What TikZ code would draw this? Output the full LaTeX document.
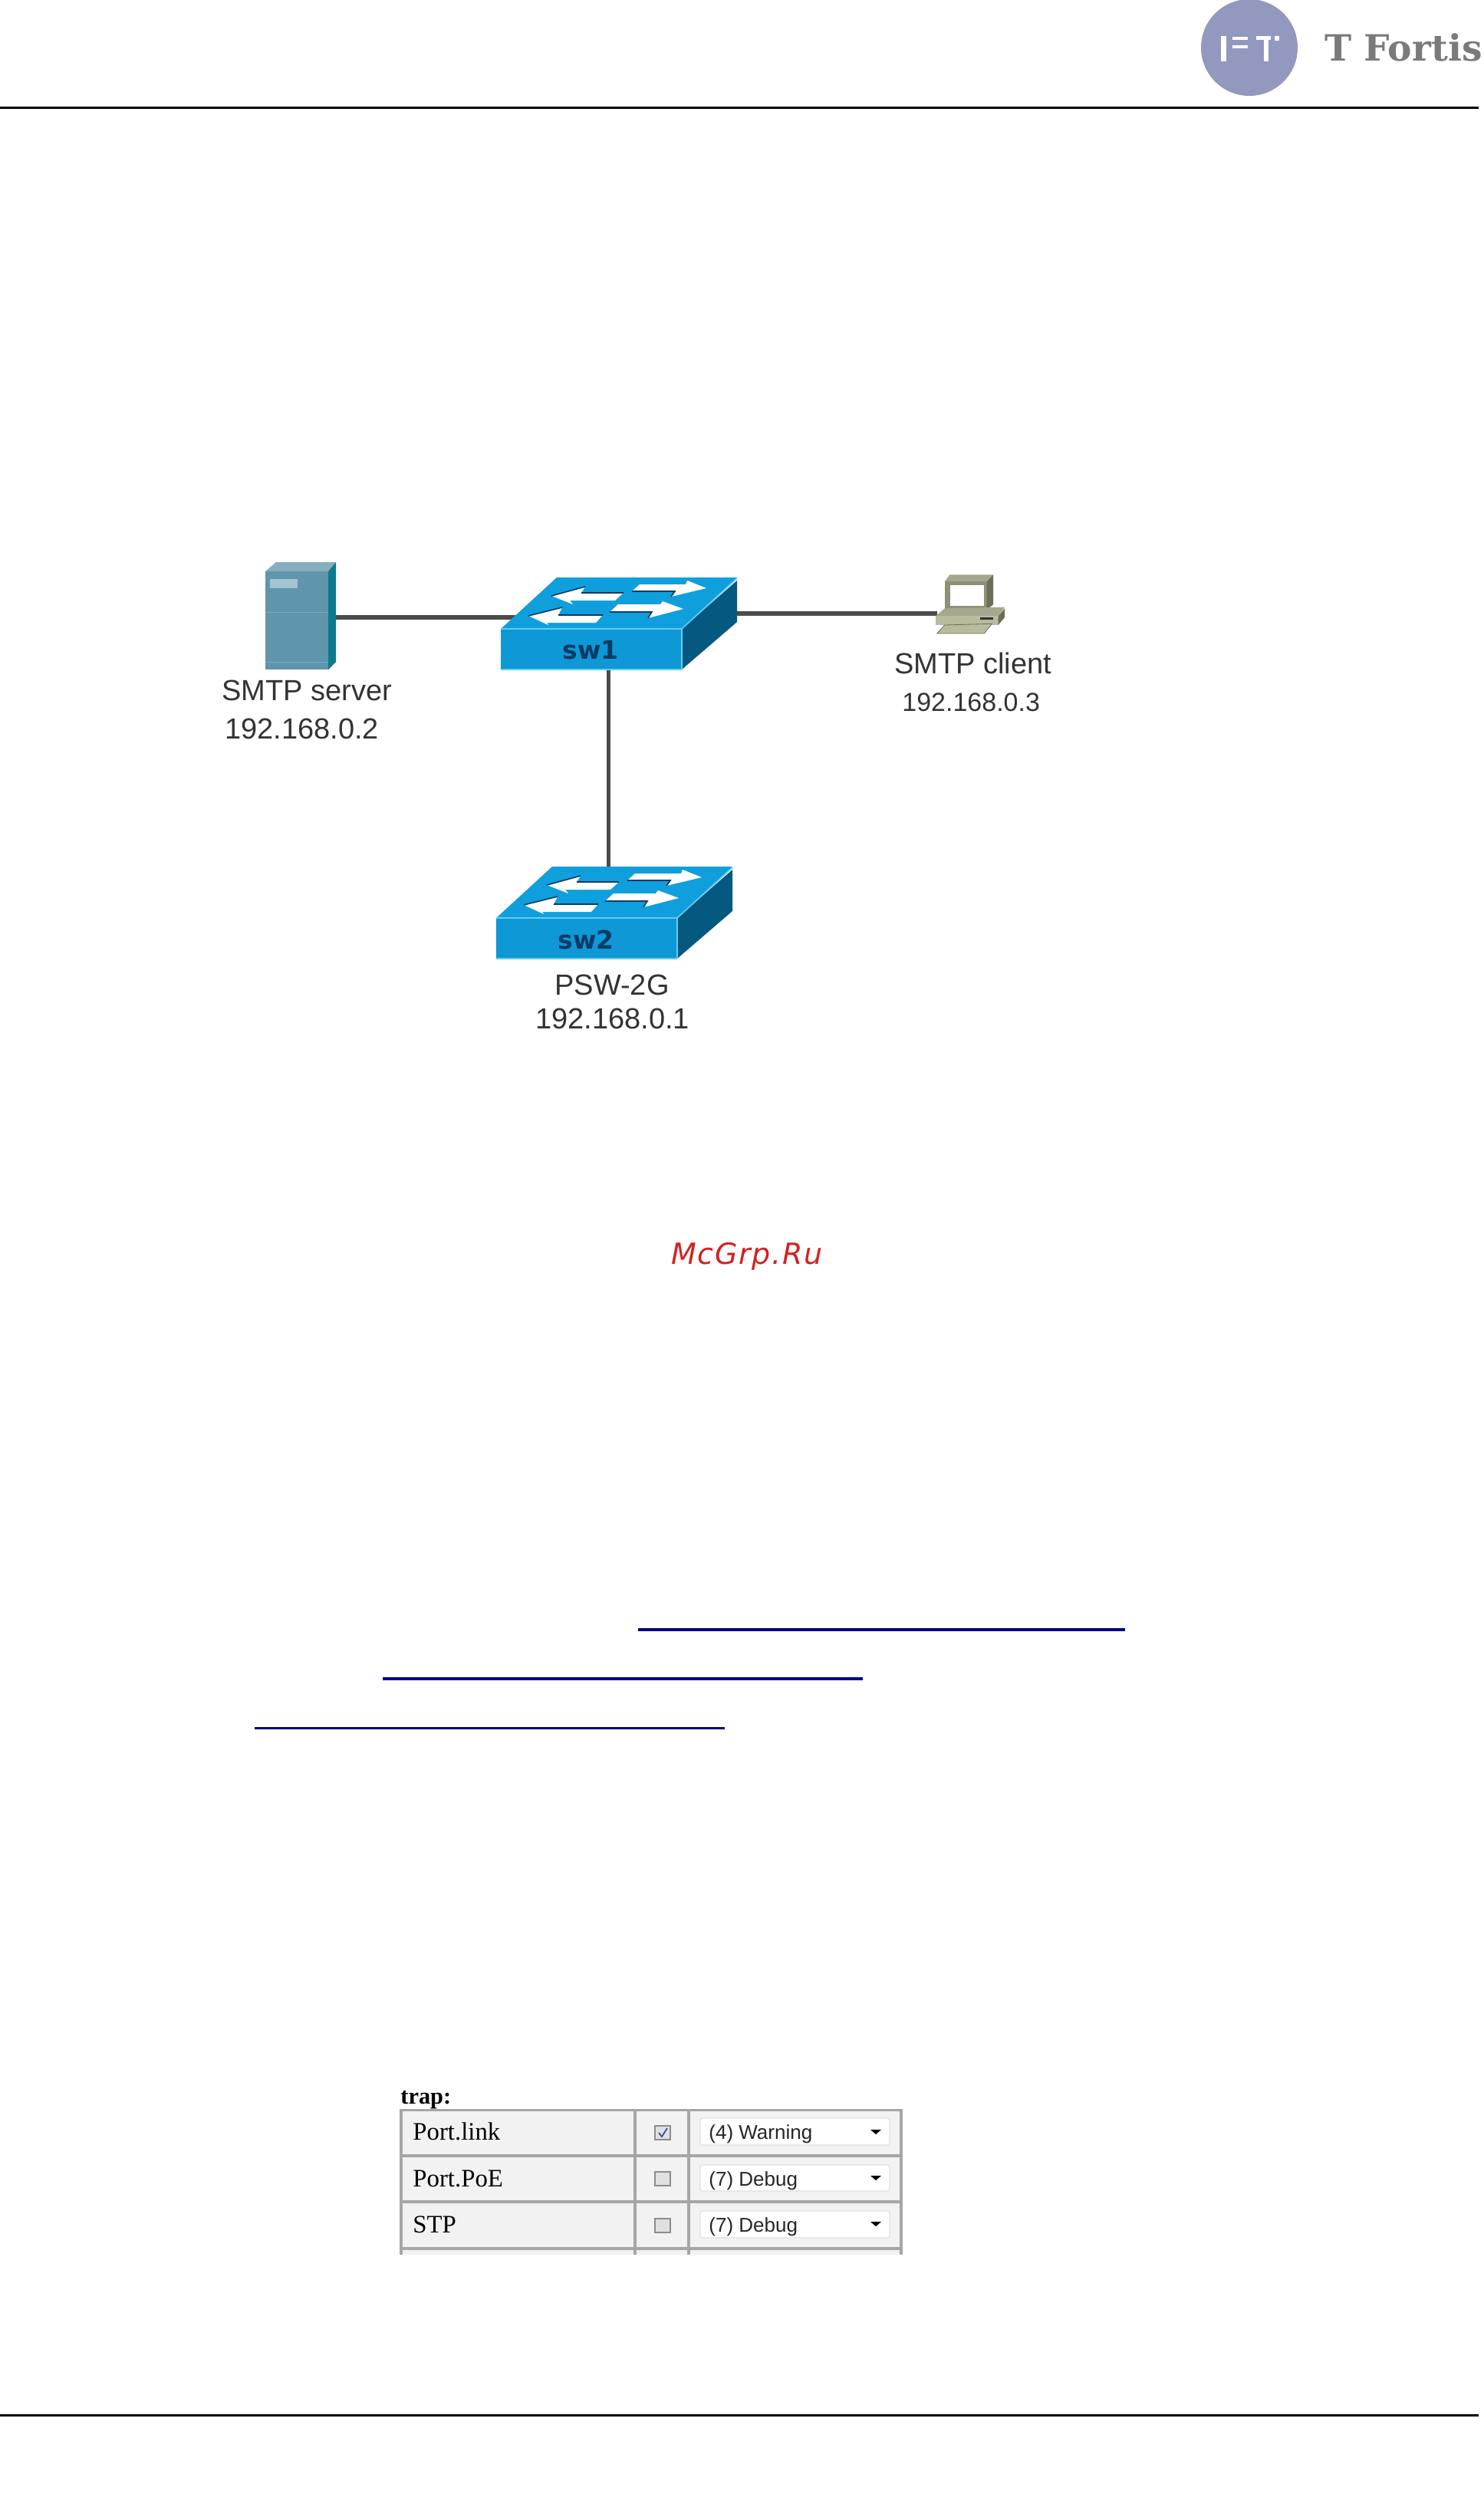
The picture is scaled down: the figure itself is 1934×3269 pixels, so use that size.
\documentclass[tikz,border=0pt]{standalone}
\usepackage{fontspec}
\setmainfont{Liberation Serif}
\newfontfamily\arialf{Liberation Sans}
\newfontfamily\logof{DejaVu Serif}
\newfontfamily\djv{DejaVu Sans}
\newfontfamily\wmf[LetterSpace=4.5]{DejaVu Sans}
\definecolor{swfront}{HTML}{0E98D6}
\definecolor{swtop}{HTML}{0F9FDC}
\definecolor{swside}{HTML}{05587F}
\definecolor{swedge}{HTML}{63CDF3}
\definecolor{swdark}{HTML}{0A3A66}
\definecolor{lnk}{HTML}{4C4C4C}
\definecolor{lbl}{HTML}{333333}
\definecolor{cellbg}{HTML}{F2F2F2}
\definecolor{cellln}{HTML}{A6A6A6}
\definecolor{pcA}{HTML}{8E9078}
\definecolor{pcB}{HTML}{A5A78F}
\definecolor{pcC}{HTML}{B8BB9D}
\definecolor{pcD}{HTML}{6C6E58}
\definecolor{logoblue}{HTML}{9398BE}
\definecolor{logogrey}{HTML}{7A7A7A}
\definecolor{ulcol}{HTML}{000080}
\definecolor{wmcol}{HTML}{D42020}
\definecolor{chkcol}{HTML}{3F4F9A}
\definecolor{srvfront}{HTML}{5F96AB}
\definecolor{srvtop}{HTML}{86AEBF}
\definecolor{srvside}{HTML}{0D7A8C}
\definecolor{srvbadge}{HTML}{A3C4D1}
\definecolor{srvline}{HTML}{7CAABC}
\tikzset{
  x=0.5pt,y=-0.5pt,
  rulel/.style={line width=1.5pt,black},
  linkl/.style={line width=2.6pt,lnk},
  ulink/.style={fill=ulcol},
  lab/.style={anchor=base west,inner sep=0pt,text=lbl,font=\arialf\fontsize{19}{19}\selectfont},
  labsmall/.style={anchor=base west,inner sep=0pt,text=lbl,font=\arialf\fontsize{17}{17}\selectfont},
  celltxt/.style={anchor=base west,inner sep=0pt,text=black,font=\fontsize{16.4}{16.4}\selectfont},
  seltxt/.style={anchor=base west,inner sep=0pt,text=black!85,font=\arialf\fontsize{13}{13}\selectfont},
  selbox/.style={draw=black!12,fill=white,line width=0.6pt,rounded corners=1.5pt},
  chk/.style={draw=black!45,fill=black!12,line width=1pt},
  swarrow/.style={fill=white,draw=none},
  swshade/.style={draw=swdark,line width=0.8pt},
  swname/.style={inner sep=0pt,text=swdark,font=\djv\bfseries\fontsize{16.5}{16.5}\selectfont},
}
\newcommand{\switchicon}[3]{%
 \begin{scope}[shift={(#1,#2)}]
  \fill[swtop] (0,0) -- (73,-67) -- (308,-67) -- (236,0) -- cycle;
  \fill[swfront] (0,0) rectangle (236,53);
  \fill[swside] (236,0) -- (308,-63) -- (308,-9) -- (236,53) -- cycle;
  \draw[swedge,line width=0.8pt] (0,0) -- (236,0) -- (308,-66) (236,0) -- (236,53) (0,53) -- (236,53);
  \fill[swarrow] (66,-43) -- (110,-55) -- (105,-47) -- (160,-47) -- (149,-37) -- (90,-37) -- (94,-32) -- cycle;
  \fill[swarrow] (36,-17) -- (80,-28) -- (75,-18) -- (133,-18) -- (124,-8) -- (60,-8) -- (62,-5) -- cycle;
  \fill[swarrow] (181,-58) -- (241,-58) -- (243,-63) -- (268,-53) -- (222,-42) -- (227,-49) -- (171,-49) -- cycle;
  \fill[swarrow] (153,-32) -- (208,-32) -- (211,-36) -- (238,-26) -- (192,-14) -- (197,-22) -- (142,-22) -- cycle;
  \draw[swshade] (66,-43) -- (110,-55) (105,-47) -- (160,-47);
  \draw[swshade] (36,-17) -- (80,-28) (75,-18) -- (133,-18);
  \draw[swshade] (171,-49) -- (227,-49) -- (222,-42);
  \draw[swshade] (142,-22) -- (197,-22) -- (192,-14);
  \node[swname] (#3) at (117,28) {#3};
 \end{scope}}
\begin{document}
\begin{tikzpicture}
\useasboundingbox (0,0) rectangle (1934,3269);
% header / footer
\coordinate (hl) at (0,141); \coordinate (hr) at (1928,141);
\coordinate (fl) at (0,3149); \coordinate (fr) at (1928,3149);
\draw[rulel] (hl) -- (hr);
\draw[rulel] (fl) -- (fr);
% logo
\fill[logoblue] (1629,62) circle[radius=63];
\fill[white] (1592,47) rectangle (1599,80);
\fill[white] (1607,48) rectangle (1627,52);
\fill[white] (1607,59) rectangle (1627,63);
\fill[white] (1638,47) rectangle (1657,52);
\fill[white] (1648,47) rectangle (1654,80);
\fill[white] (1662,47) rectangle (1668,53);
\node[anchor=base west,inner sep=0pt,text=logogrey,font=\logof\bfseries\fontsize{23.6}{23.6}\selectfont] (logotext) at (1727,80) {T Fortis};
% connector ends
\coordinate (srvE) at (438,805);
\coordinate (sw1W) at (672,805);
\coordinate (sw1E) at (955,800);
\coordinate (pcW) at (1222,800);
\coordinate (sw1S) at (793.5,870);
\coordinate (sw2N) at (793.5,1132);
\draw[linkl] (srvE) -- (sw1W);
\draw[linkl] (sw1E) -- (pcW);
\draw[linkl] (sw1S) -- (sw2N);
% server
\fill[srvfront] (346,745) rectangle (428,873);
\fill[srvtop] (346,745) -- (360,733) -- (438,733) -- (428,745) -- cycle;
\fill[srvside] (428,745) -- (438,733) -- (438,863) -- (428,873) -- cycle;
\fill[srvbadge] (352,755) rectangle (388,767);
\draw[line width=0.5pt,srvline] (346,798) -- (428,798) (346,863) -- (428,863);
% switches
\switchicon{653}{820}{sw1}
\switchicon{647}{1197}{sw2}
% client
\begin{scope}[shift={(1000,700)},x=0.16667pt,y=-0.16667pt]
 \fill[pcB] (695,175) -- (715,148) -- (885,148) -- (860,175) -- cycle;
 \fill[pcA] (695,175) rectangle (860,285);
 \fill[pcD] (860,175) -- (885,148) -- (885,265) -- (860,285) -- cycle;
 \fill[white] (718,190) rectangle (850,270);
 \fill[pcB] (660,310) -- (695,280) -- (930,275) -- (905,310) -- cycle;
 \fill[pcC] (660,310) rectangle (905,345);
 \fill[pcD] (905,310) -- (930,280) -- (930,315) -- (905,345) -- cycle;
 \fill[black!80] (835,315) rectangle (885,325);
 \fill[pcC] (665,378) -- (695,345) -- (880,340) -- (850,378) -- cycle;
 \draw[pcD,line width=0.4pt] (665,378) -- (695,345) -- (880,340) -- (850,378) -- cycle;
\end{scope}
% labels
\node[lab] (l1) at (289,913) {SMTP server};
\node[lab] (l2) at (293,963) {192.168.0.2};
\node[lab] (l3) at (1166,878) {SMTP client};
\node[labsmall] (l4) at (1176,927) {192.168.0.3};
\node[lab] (l5) at (723,1297) {PSW-2G};
\node[lab] (l6) at (698,1341) {192.168.0.1};
% watermark
\node[anchor=base west,inner sep=0pt,text=wmcol,font=\wmf\itshape\fontsize{19}{19}\selectfont] (wm) at (875,1648) {McGrp.Ru};
% link underlines
\fill[ulink] (832,2122.5) rectangle (1467,2127);
\fill[ulink] (499,2186.5) rectangle (1125,2191);
\fill[ulink] (332,2251.5) rectangle (945,2255);
% table
\node[anchor=base west,inner sep=0pt,font=\bfseries\fontsize{15.2}{15.2}\selectfont] (trap) at (522,2743) {trap:};
\fill[cellbg] (521,2750) rectangle (1177,2940);
\foreach \xa/\xb in {521/525,826/830,896/900,1173/1177}
  \fill[cellln] (\xa,2750) rectangle (\xb,2940);
\foreach \ya/\yb in {2750/2753,2809/2812.5,2869/2872.5,2930/2933.5}
  \fill[cellln] (521,\ya) rectangle (1177,\yb);
\node[celltxt] (c1) at (538,2790) {Port.link};
\node[celltxt] (c2) at (538,2851) {Port.PoE};
\node[celltxt] (c3) at (538,2911) {STP};
\foreach \ya/\yb in {2772/2790,2832/2850,2893/2911}
  \draw[chk] (854,\ya) rectangle (874,\yb);
\draw[line width=0.9pt,chkcol] (859,2781) -- (863,2786) -- (870,2775);
\foreach \ya/\yb in {2762/2797,2823/2857,2883/2918}
  \draw[selbox] (913,\ya) rectangle (1160,\yb);
\node[seltxt] (s1) at (924,2789) {(4) Warning};
\node[seltxt] (s2) at (924,2850) {(7) Debug};
\node[seltxt] (s3) at (924,2910) {(7) Debug};
\foreach \ya in {2777,2837,2897}
  \fill[black] (1135,\ya) -- (1149,\ya) -- (1142,\ya+6) -- cycle;
\end{tikzpicture}
\end{document}
